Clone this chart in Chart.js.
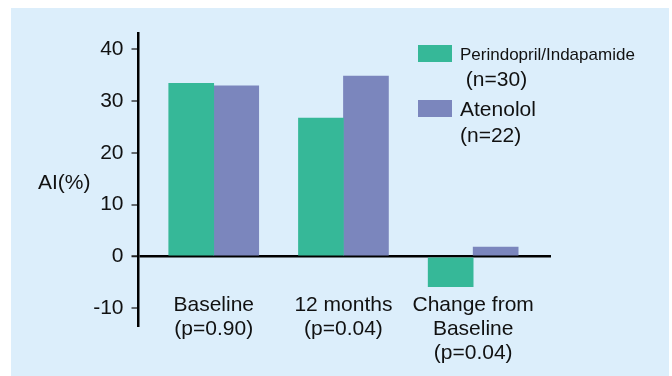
<!DOCTYPE html>
<html>
<head>
<meta charset="utf-8">
<script src="https://cdn.jsdelivr.net/npm/chart.js@4.4.1/dist/chart.umd.min.js"></script>
<style>
  html, body { margin: 0; padding: 0; background: #ffffff; }
  #wrap { width: 672px; height: 376px; }
  canvas { display: block; }
</style>
</head>
<body>
<div id="wrap"><canvas id="chart" width="672" height="376"></canvas></div>
<script>
// Augmentation index by treatment group
const categories = [
  ['Baseline', '(p=0.90)'],
  ['12 months', '(p=0.04)'],
  ['Change from', 'Baseline', '(p=0.04)']
];
const seriesNames = ['Perindopril/Indapamide', 'Atenolol'];
const seriesCounts = [' (n=30)', '(n=22)'];
const perindoprilValues = [33.4, 26.7, -5.8];
const atenololValues = [32.9, 34.8, 1.8];
const yTickValues = [-10, 0, 10, 20, 30, 40];
const yAxisTitle = 'AI(%)';

const FONT = '"Liberation Sans", Arial, Helvetica, sans-serif';
const GREEN = '#36b898';
const PURPLE = '#7b86bd';
const PANEL = '#dceefb';
const INK = '#111111';

const toPoints = vals => vals.map((v, i) => ({ x: i, y: v }));

// panel background, legend and the horizontal axis caption
const decorations = {
  id: 'decorations',
  beforeDraw(chart) {
    const ctx = chart.ctx;
    ctx.save();
    ctx.fillStyle = '#ffffff';
    ctx.fillRect(0, 0, chart.width, chart.height);
    ctx.fillStyle = PANEL;
    ctx.fillRect(11, 8, 658, chart.height - 8);
    ctx.restore();
  },
  afterDraw(chart) {
    const ctx = chart.ctx;
    ctx.save();
    ctx.fillStyle = INK;
    ctx.textBaseline = 'middle';
    ctx.textAlign = 'left';
    ctx.font = '21px ' + FONT;
    ctx.fillText(yAxisTitle, 38, 183);

    const rows = [
      { boxY: 45, nameY: 55.5, nameSize: 17, countY: 80 },
      { boxY: 100, nameY: 110, nameSize: 21, countY: 136 }
    ];
    chart.data.datasets.forEach((ds, i) => {
      const r = rows[i];
      ctx.fillStyle = ds.backgroundColor;
      ctx.fillRect(418, r.boxY, 34, 17);
      ctx.fillStyle = INK;
      ctx.font = r.nameSize + 'px ' + FONT;
      ctx.fillText(seriesNames[i], 460, r.nameY);
      ctx.font = '21px ' + FONT;
      ctx.fillText(seriesCounts[i], 460, r.countY);
    });
    ctx.restore();
  }
};

new Chart(document.getElementById('chart'), {
  type: 'bar',
  data: {
    datasets: [
      { label: seriesNames[0], data: toPoints(perindoprilValues), backgroundColor: GREEN },
      { label: seriesNames[1], data: toPoints(atenololValues), backgroundColor: PURPLE }
    ]
  },
  options: {
    responsive: false,
    animation: false,
    devicePixelRatio: 1,
    layout: { padding: { left: 0, top: 33, right: 121, bottom: 29 } },
    datasets: { bar: { barThickness: 45, borderWidth: 0, grouped: true } },
    plugins: { legend: { display: false }, tooltip: { enabled: false }, title: { display: false } },
    scales: {
      x: {
        type: 'linear',
        position: 'bottom',
        offset: false,
        min: -0.58,
        max: 2.6,
        afterBuildTicks: s => { s.ticks = categories.map((_, i) => ({ value: i })); },
        grid: { display: false, drawTicks: false, offset: false },
        border: { display: false },
        ticks: {
          autoSkip: false,
          maxRotation: 0,
          minRotation: 0,
          mirror: true,
          padding: 10,
          color: INK,
          font: { family: FONT, size: 21, lineHeight: '24px' },
          callback: v => categories[v] || ''
        }
      },
      y: {
        min: -13.6,
        max: 43.1,
        z: 1,
        afterBuildTicks: s => { s.ticks = yTickValues.map(v => ({ value: v })); },
        afterFit: s => { s.width = 138.5; },
        border: { display: true, color: '#000000', width: 2.5 },
        grid: {
          drawOnChartArea: true,
          drawTicks: true,
          tickLength: 7,
          color: c => (c.tick && c.tick.value === 0 ? '#000000' : 'rgba(0,0,0,0)'),
          lineWidth: c => (c.tick && c.tick.value === 0 ? 2.5 : 0),
          tickColor: '#222222',
          tickWidth: c => (c.tick && c.tick.value === 0 ? 2 : 1.3)
        },
        ticks: {
          padding: 8,
          color: INK,
          font: { family: FONT, size: 21 }
        }
      }
    }
  },
  plugins: [decorations]
});
</script>
</body>
</html>
